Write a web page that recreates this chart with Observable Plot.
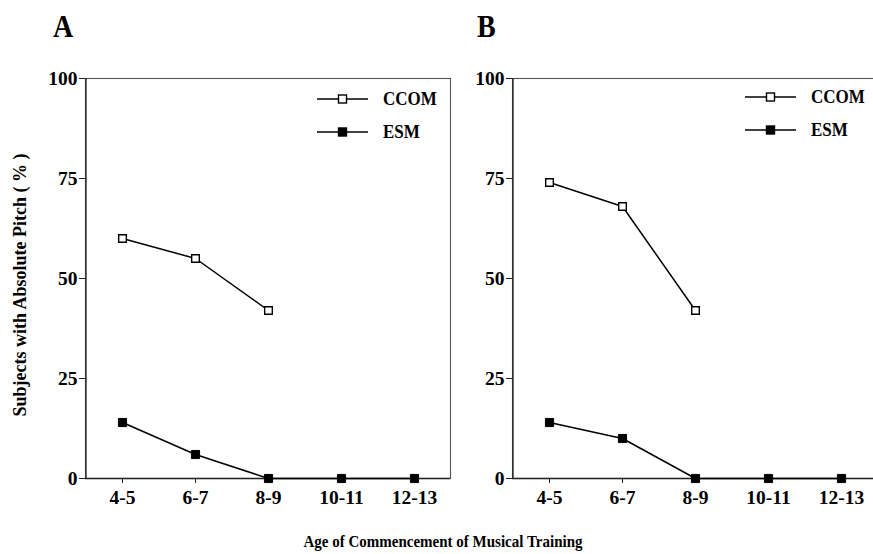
<!DOCTYPE html>
<html>
<head>
<meta charset="utf-8">
<script src="https://cdn.jsdelivr.net/npm/d3@7"></script>
<script src="https://cdn.jsdelivr.net/npm/@observablehq/plot@0.6"></script>
<style>
  html, body { margin: 0; padding: 0; background: #fff; overflow: hidden; }
  #wrap { position: relative; width: 873px; height: 554px; overflow: hidden;
          font-family: "Liberation Serif", "DejaVu Serif", serif; font-weight: bold; color: #000; }
  .abs { position: absolute; }
  #wrap svg { max-width: none !important; }
  .plabel { font-size: 28px; line-height: 1; transform: scaleY(1.1); transform-origin: top left; }
  .legend { position: absolute; font-size: 17px; line-height: 1; }
  .legend svg { position: absolute; left: 0; top: 0; overflow: visible; }
  .legend span { position: absolute; white-space: nowrap; transform: scaleY(1.12); transform-origin: center; }
</style>
</head>
<body>
<div id="wrap">
  <div class="abs plabel" style="left:53px; top:12px;">A</div>
  <div class="abs plabel" style="left:477px; top:12px;">B</div>
  <div id="pA" class="abs" style="left:0; top:0; width:460px;"></div>
  <div id="pB" class="abs" style="left:460px; top:0; width:430px;"></div>
  <div id="ylab" class="abs" style="left:20px; top:285px; font-size:18px; white-space:nowrap; transform: translate(-50%,-50%) rotate(-90deg) scaleY(1.1);"></div>
  <div id="xlab" class="abs" style="left:443px; top:533px; font-size:15px; white-space:nowrap; transform: translateX(-50%) scaleY(1.15);"></div>
  <div id="legA" class="legend" style="left:317px; top:0;"></div>
  <div id="legB" class="legend" style="left:745px; top:-2px;"></div>
</div>
<script>
// ---- data ----
const ages = ["4-5", "6-7", "8-9", "10-11", "12-13"];
const ccomA = [60, 55, 42];
const esmA = [14, 6, 0, 0, 0];
const ccomB = [74, 68, 42];
const esmB = [14, 10, 0, 0, 0];
const yTicks = [0, 25, 50, 75, 100];
const seriesNames = ["CCOM", "ESM"];
const yTitle = "Subjects with Absolute Pitch ( % )";
const xTitle = "Age of Commencement of Musical Training";

document.getElementById("ylab").textContent = yTitle;
document.getElementById("xlab").textContent = xTitle;

function rows(vals) { return vals.map((v, i) => ({age: ages[i], value: v})); }

function panel(ccom, esm, opts) {
  const c = rows(ccom), e = rows(esm);
  return Plot.plot({
    width: opts.width,
    height: 510,
    marginLeft: opts.marginLeft,
    marginRight: opts.marginRight,
    marginTop: 78,
    marginBottom: 32,
    style: {fontFamily: "Liberation Serif", fontWeight: "bold", fontSize: "19px", background: "transparent", overflow: "visible", maxWidth: "none"},
    x: {type: "point", domain: ages, padding: 0.5},
    y: {domain: [0, 100]},
    marks: [
      Plot.frame({stroke: "#555", strokeWidth: 1.1}),
      Plot.axisX({tickSize: 5, tickPadding: 7, label: null, stroke: "#222", fontSize: 19.5, fontWeight: "bold"}),
      Plot.axisY({ticks: yTicks, tickSize: 6, tickPadding: 2, label: null, stroke: "#222", fontSize: 19.5, fontWeight: "bold"}),
      Plot.ruleY([0], {stroke: "#222", strokeWidth: 1.3}),
      Plot.ruleX([ages[0]], {stroke: "#222", strokeWidth: 1.3, dx: -opts.step / 2}),
      Plot.line(e, {x: "age", y: "value", stroke: "#000", strokeWidth: 1.5}),
      Plot.line(c, {x: "age", y: "value", stroke: "#000", strokeWidth: 1.5}),
      Plot.dot(e, {x: "age", y: "value", symbol: "square", r: 4.6, fill: "#000", stroke: "#000", strokeWidth: 1}),
      Plot.dot(c, {x: "age", y: "value", symbol: "square", r: 4.3, fill: "#fff", stroke: "#000", strokeWidth: 1.4})
    ]
  });
}

document.getElementById("pA").appendChild(panel(ccomA, esmA, {width: 460, marginLeft: 85, marginRight: 10, step: 73}));
document.getElementById("pB").appendChild(panel(ccomB, esmB, {width: 430, marginLeft: 52, marginRight: 13, step: 73}));

function legend(el) {
  const ys = [99, 132];
  let html = '<svg width="60" height="150">';
  seriesNames.forEach((name, i) => {
    const y = ys[i];
    html += `<line x1="0" x2="51" y1="${y}" y2="${y}" stroke="#000" stroke-width="1.5"/>`;
    html += `<rect x="${25.5 - 4}" y="${y - 4}" width="8" height="8" fill="${i === 0 ? '#fff' : '#000'}" stroke="#000" stroke-width="1.4"/>`;
  });
  html += '</svg>';
  seriesNames.forEach((name, i) => {
    html += `<span style="left:66px; top:${ys[i] - 9}px;">${name}</span>`;
  });
  el.innerHTML = html;
}
legend(document.getElementById("legA"));
legend(document.getElementById("legB"));
</script>
</body>
</html>
